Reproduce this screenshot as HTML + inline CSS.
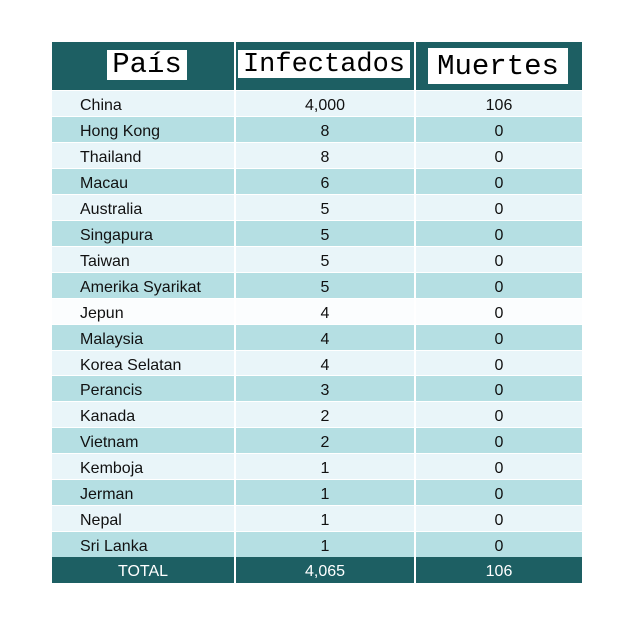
<!DOCTYPE html>
<html><head><meta charset="utf-8"><style>
body{margin:0;width:640px;height:640px;background:#fff;position:relative;font-family:"Liberation Sans",sans-serif;overflow:hidden}
.r{position:absolute;left:52px;width:530px;height:26px}
.c{position:absolute;top:2px;height:100%;font-size:16px;line-height:26px;color:#111}
.n{text-align:center}
.sep{position:absolute;top:0;width:2px;height:100%;background:#fff}
.hb{position:absolute;background:#fff;font-family:"Liberation Mono",monospace;color:#000;text-align:center}
</style></head><body>
<div>
<div style="position:absolute;left:52px;top:42px;width:530px;height:48px;background:#1d5f63">
 <div class="sep" style="left:182px"></div><div class="sep" style="left:362px"></div>
 <div class="hb" style="left:55px;top:8px;width:80px;height:30px;font-size:29px;line-height:30px">País</div>
 <div class="hb" style="left:186px;top:8px;width:172px;height:28px;font-size:27px;line-height:30px">Infectados</div>
 <div class="hb" style="left:376px;top:6px;width:140px;height:36px;font-size:29px;line-height:38px">Muertes</div>
</div>
<div id="rows"></div>
</div>
<script>
const countries=["China","Hong Kong","Thailand","Macau","Australia","Singapura","Taiwan","Amerika Syarikat","Jepun","Malaysia","Korea Selatan","Perancis","Kanada","Vietnam","Kemboja","Jerman","Nepal","Sri Lanka"];
const infected=["4,000","8","8","6","5","5","5","5","4","4","4","3","2","2","1","1","1","1"];
const deaths=["106","0","0","0","0","0","0","0","0","0","0","0","0","0","0","0","0","0"];
const totals=["TOTAL","4,065","106"];
const host=document.getElementById('rows');
const rh=25.95;
countries.forEach((c,i)=>{
 const r=document.createElement('div');
 r.className='r';
 
 
 r.style.top=(90+i*rh)+'px';
 r.style.background=i%2?'#b5dfe3':(i==8?'#fbfdfe':'#e9f5f9');
 r.style.borderTop='1px solid #fff';r.style.boxSizing='border-box';
 r.innerHTML='<div class="sep" style="left:182px"></div><div class="sep" style="left:362px"></div>'+
 '<div class="c" style="left:28px">'+c+'</div>'+
 '<div class="c n" style="left:184px;width:178px">'+infected[i]+'</div>'+
 '<div class="c n" style="left:364px;width:166px">'+deaths[i]+'</div>';
 host.appendChild(r);
});
const t=document.createElement('div');
t.className='r';


t.style.top='557px';t.style.background='#1d5f63';
t.innerHTML='<div class="sep" style="left:182px"></div><div class="sep" style="left:362px"></div>'+
 '<div class="c n" style="left:0;width:182px;color:#fff">'+totals[0]+'</div>'+
 '<div class="c n" style="left:184px;width:178px;color:#fff">'+totals[1]+'</div>'+
 '<div class="c n" style="left:364px;width:166px;color:#fff">'+totals[2]+'</div>';
host.appendChild(t);
</script>
</body></html>
